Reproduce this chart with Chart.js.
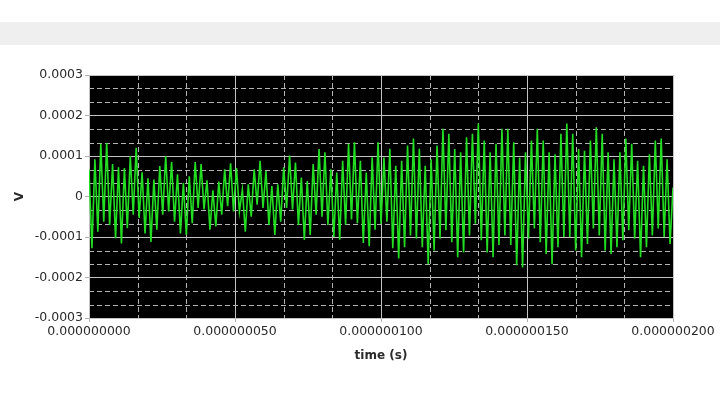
<!DOCTYPE html>
<html>
<head>
<meta charset="utf-8">
<script src="https://cdn.jsdelivr.net/npm/chart.js@4.4.0/dist/chart.umd.min.js"></script>
<style>
  html, body { margin: 0; padding: 0; background: #fff; }
  #band { position: absolute; left: 0; top: 22px; width: 720px; height: 23px; background: #efefef; }
  #wrap { position: absolute; left: 0; top: 0; width: 720px; height: 395px; }
</style>
</head>
<body>
<div id="band"></div>
<div id="wrap"><canvas id="scope" width="720" height="395"></canvas></div>
<script>
// signal extremes, in microvolts (peak, trough, peak, ...)
const peaks = [
  67, 92, 130, 132, 80, 72, 70, 100, 120, 60, 45, 42, 75, 100, 85, 55, 33, 50, 85, 80, 40, 15, 37, 67, 82,
  70,
  17, 30, 67, 88, 63, 26, 30, 72, 101, 84, 47, 38, 80, 117, 109, 67, 59, 88, 130, 134, 88, 59, 97, 134,
  96, 118, 76, 88, 126, 143, 118, 76, 92, 126, 167, 155, 117, 109, 146, 155, 180, 138, 109, 130, 167, 167, 134, 96, 109,
  138, 167, 138, 109, 104, 155, 180, 155, 117, 113, 138, 171, 155, 109, 92, 109, 143, 130, 88, 76, 104, 138, 143, 92, 22
];
const troughs = [
  -128, -87, -62, -70, -103, -116, -78, -45, -53, -91, -112, -82, -45, -37, -62, -91, -95, -66, -28, -32, -82, -74, -45, -24, -37,
  -37, -87, -50, -20, -28, -70, -95, -62, -28, -32, -70, -107, -95, -45, -50, -70, -100, -107, -70, -57, -66, -115, -123, -82, -67,
  -62, -128, -153, -125, -96, -104, -125, -167, -133, -104, -83, -113, -150, -138, -96, -67, -108, -138, -150, -120, -96, -120, -170, -175,
  -104, -79, -113, -142, -167, -125, -100, -100, -133, -150, -117, -79, -96, -133, -142, -125, -108, -83, -104, -150, -125, -96, -79, -100, -117
];

const tStart = 0;
const tEnd = 0.0000002;
const xTicks = [0, 0.00000005, 0.0000001, 0.00000015, 0.0000002];
const yTicks = [-0.0003, -0.0002, -0.0001, 0, 0.0001, 0.0002, 0.0003];

// interleave into one trace, evenly spread over the time window
const volts = [];
for (let i = 0; i < peaks.length; i++) {
  volts.push(peaks[i]);
  if (i < troughs.length) volts.push(troughs[i]);
}
const dt = (tEnd - tStart) / (volts.length - 1);
const trace = volts.map((v, i) => ({ x: tStart + i * dt, y: v * 1e-6 }));

const labelFont = { family: "DejaVu Sans", size: 12.5 };
const titleFont = { family: "DejaVu Sans", size: 12, weight: "bold" };

// black plot area plus dashed minor grid (3 divisions per major step)
const scopeBackground = {
  id: "scopeBackground",
  beforeDraw(chart) {
    const { ctx, chartArea: a } = chart;
    ctx.save();
    ctx.fillStyle = "#000";
    ctx.fillRect(a.left, a.top, a.right - a.left, a.bottom - a.top);
    ctx.restore();
  },
  beforeDatasetsDraw(chart) {
    const { ctx, chartArea: a, scales } = chart;
    ctx.save();
    ctx.strokeStyle = "#b4b4b4";
    ctx.lineWidth = 1;
    ctx.setLineDash([5, 3]);
    for (let i = 0; i < xTicks.length - 1; i++) {
      const step = (xTicks[i + 1] - xTicks[i]) / 3;
      for (let k = 1; k < 3; k++) {
        const px = Math.round(scales.x.getPixelForValue(xTicks[i] + k * step)) + 0.5;
        ctx.beginPath(); ctx.moveTo(px, a.top); ctx.lineTo(px, a.bottom); ctx.stroke();
      }
    }
    for (let i = 0; i < yTicks.length - 1; i++) {
      const step = (yTicks[i + 1] - yTicks[i]) / 3;
      for (let k = 1; k < 3; k++) {
        const py = Math.round(scales.y.getPixelForValue(yTicks[i] + k * step)) + 0.5;
        ctx.beginPath(); ctx.moveTo(a.left, py); ctx.lineTo(a.right, py); ctx.stroke();
      }
    }
    ctx.restore();
  }
};

new Chart(document.getElementById("scope"), {
  type: "line",
  data: {
    datasets: [{
      data: trace,
      borderColor: "#22dd22",
      borderWidth: 1.6,
      pointRadius: 0,
      tension: 0,
      fill: false
    }]
  },
  options: {
    responsive: false,
    animation: false,
    devicePixelRatio: 1,
    layout: { padding: { top: 75, right: 47, left: 0, bottom: 0 } },
    plugins: { legend: { display: false }, tooltip: { enabled: false } },
    scales: {
      x: {
        type: "linear",
        min: tStart,
        max: tEnd,
        afterBuildTicks: s => { s.ticks = xTicks.map(v => ({ value: v })); },
        afterFit: s => { s.height = 77; },
        ticks: {
          color: "#2a2a2a",
          font: labelFont,
          padding: 2,
          maxRotation: 0,
          callback: v => v.toFixed(9)
        },
        grid: { color: "#c4c4c4", lineWidth: 1, tickLength: 4, tickColor: "#b0b0b0" },
        border: { color: "#c4c4c4" },
        title: { display: true, text: "time (s)", color: "#2a2a2a", font: titleFont, padding: { bottom: 32 } }
      },
      y: {
        type: "linear",
        min: -0.0003,
        max: 0.0003,
        afterBuildTicks: s => { s.ticks = yTicks.map(v => ({ value: v })); },
        afterFit: s => { s.width = 89; },
        ticks: {
          color: "#2a2a2a",
          font: labelFont,
          padding: 2,
          callback: v => (Math.abs(v) < 1e-12 ? "0" : v.toFixed(4))
        },
        grid: { color: "#c4c4c4", lineWidth: 1, tickLength: 4, tickColor: "#b0b0b0" },
        border: { color: "#c4c4c4" },
        title: { display: true, text: "V", color: "#2a2a2a", font: titleFont, padding: { top: 13 } }
      }
    }
  },
  plugins: [scopeBackground]
});
</script>
</body>
</html>
